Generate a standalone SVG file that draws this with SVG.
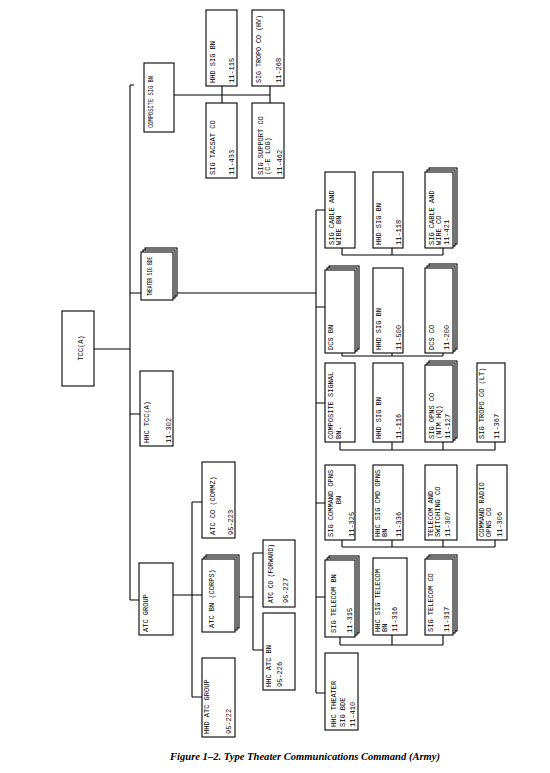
<svg xmlns="http://www.w3.org/2000/svg" width="550" height="773" viewBox="0 0 550 773">
<style>
.b{fill:#fff;stroke:#000;stroke-width:1.1}
.t{font-family:"Liberation Mono","DejaVu Sans Mono",monospace;font-size:7px;fill:#000}
.m{text-anchor:middle}
.c{fill:none;stroke:#000;stroke-width:1.1}
.cap{font-family:"Liberation Serif","Times New Roman",serif;font-size:10px;font-style:italic;font-weight:bold;fill:#000}
</style>
<rect width="550" height="773" fill="#fff"/>
<g id="connectors" class="c">
<path d="M130 85V600M130 85H134M94 349H130"/>
<path d="M174 95H270M222 86V103M270 86V103"/>
<path d="M130 293H141M175 293H316M130 414H140"/>
<path d="M130 600H139M173 595H192M192 502V697M192 502H202M192 595H202M192 697H202"/>
<path d="M237 597H253M253 553V650M253 553H263M253 650H263"/>
<path d="M316 210V693M316 210H325M316 307H325M316 403H325M316 503H325M316 597H325M316 693H325"/>
<path d="M342 255H443M342 248V255M392 248V255M443 248V255"/>
<path d="M342 356H443M342 353V356M392 353V356M443 353V356"/>
<path d="M340 450H495M340 442V450M392 442V450M443 442V450M495 442V450"/>
<path d="M342 547H495M342 540V547M392 540V547M443 540V547M495 540V547"/>
<path d="M340 645H443M340 637V645M392 635V645M443 635V645"/>
</g>
<g id="n_tcc"><rect class="b" x="62" y="311" width="32" height="75"/><text class="t m" transform="translate(83 348) rotate(-90)">TCC(A)</text></g>
<g id="n_composite"><rect class="b" x="144" y="63" width="30" height="69"/><text class="t" transform="translate(153 128) rotate(-90)" textLength="52" lengthAdjust="spacingAndGlyphs">COMPOSITE SIG BN</text></g>
<g id="n_hhd115"><rect class="b" x="206" y="10" width="31" height="76"/><text class="t" transform="translate(215 83) rotate(-90)">HHD SIG BN</text><text class="t" transform="translate(234 83) rotate(-90)">11-115</text></g>
<g id="n_tropo_hv"><rect class="b" x="252" y="10" width="32" height="76"/><text class="t" transform="translate(261 83) rotate(-90)" textLength="68" lengthAdjust="spacingAndGlyphs">SIG TROPO CO (HV)</text><text class="t" transform="translate(281 83) rotate(-90)">11-268</text></g>
<g id="n_tacsat"><rect class="b" x="206" y="103" width="31" height="75"/><text class="t" transform="translate(215 175) rotate(-90)">SIG TACSAT CO</text><text class="t" transform="translate(234 175) rotate(-90)">11-433</text></g>
<g id="n_support"><rect class="b" x="252" y="103" width="32" height="75"/><text class="t" transform="translate(263 175) rotate(-90)">SIG SUPPORT CO</text><text class="t" transform="translate(270 175) rotate(-90)">(C-E LOG)</text><text class="t" transform="translate(282 175) rotate(-90)">11-462</text></g>
<g id="n_theater"><rect class="b" x="145" y="248" width="32" height="48"/><rect class="b" x="143" y="250" width="32" height="48"/><rect class="b" x="141" y="252" width="32" height="48"/><text class="t" transform="translate(152 296) rotate(-90)" textLength="39" lengthAdjust="spacingAndGlyphs">THEATER SIG BDE</text></g>
<g id="n_hhc_tcc"><rect class="b" x="140" y="371" width="33" height="75"/><text class="t" transform="translate(149 443) rotate(-90)">HHC TCC(A)</text><text class="t" transform="translate(171 443) rotate(-90)">11-302</text></g>
<g id="n_atc_group"><rect class="b" x="139" y="563" width="34" height="72"/><text class="t" transform="translate(148 632) rotate(-90)">ATC GROUP</text></g>
<g id="n_atc_co_commz"><rect class="b" x="202" y="462" width="33" height="76"/><text class="t" transform="translate(215 535) rotate(-90)">ATC CO (COMMZ)</text><text class="t" transform="translate(233 535) rotate(-90)">95-223</text></g>
<g id="n_atc_bn"><rect class="b" x="206" y="555" width="33" height="73"/><rect class="b" x="204" y="557" width="33" height="73"/><rect class="b" x="202" y="559" width="33" height="73"/><text class="t" transform="translate(214 628) rotate(-90)">ATC BN (CORPS)</text></g>
<g id="n_hhd_atc_group"><rect class="b" x="202" y="658" width="33" height="79"/><text class="t" transform="translate(209 734) rotate(-90)">HHD ATC GROUP</text><text class="t" transform="translate(231 734) rotate(-90)">95-222</text></g>
<g id="n_atc_co_fwd"><rect class="b" x="263" y="540" width="32" height="67"/><text class="t" transform="translate(273 603) rotate(-90)" textLength="59" lengthAdjust="spacingAndGlyphs">ATC CO (FORWARD)</text><text class="t" transform="translate(288 603) rotate(-90)">95-227</text></g>
<g id="n_hhc_atc_bn"><rect class="b" x="263" y="613" width="32" height="77"/><text class="t" transform="translate(271 687) rotate(-90)">HHC ATC BN</text><text class="t" transform="translate(282 687) rotate(-90)">95-226</text></g>
<g id="n_cw_bn"><rect class="b" x="325" y="172" width="30" height="76"/><text class="t" transform="translate(334 245) rotate(-90)">SIG CABLE AND</text><text class="t" transform="translate(341 245) rotate(-90)">WIRE BN</text></g>
<g id="n_cw_hhd"><rect class="b" x="373" y="172" width="30" height="76"/><text class="t" transform="translate(381 245) rotate(-90)">HHD SIG BN</text><text class="t" transform="translate(401 245) rotate(-90)">11-118</text></g>
<g id="n_cw_co"><rect class="b" x="429" y="168" width="28" height="76"/><rect class="b" x="427" y="170" width="28" height="76"/><rect class="b" x="425" y="172" width="28" height="76"/><text class="t" transform="translate(434 245) rotate(-90)">SIG CABLE AND</text><text class="t" transform="translate(441 245) rotate(-90)">WIRE CO</text><text class="t" transform="translate(449 245) rotate(-90)">11-421</text></g>
<g id="n_dcs_bn"><rect class="b" x="329" y="266" width="30" height="83"/><rect class="b" x="327" y="268" width="30" height="83"/><rect class="b" x="325" y="270" width="30" height="83"/><text class="t" transform="translate(333 350) rotate(-90)">DCS BN</text></g>
<g id="n_dcs_hhd"><rect class="b" x="373" y="268" width="30" height="85"/><text class="t" transform="translate(381 350) rotate(-90)">HHD SIG BN</text><text class="t" transform="translate(401 350) rotate(-90)">11-500</text></g>
<g id="n_dcs_co"><rect class="b" x="429" y="264" width="28" height="85"/><rect class="b" x="427" y="266" width="28" height="85"/><rect class="b" x="425" y="268" width="28" height="85"/><text class="t" transform="translate(434 350) rotate(-90)">DCS CO</text><text class="t" transform="translate(449 350) rotate(-90)">11-200</text></g>
<g id="n_comp_bn"><rect class="b" x="325" y="363" width="30" height="79"/><text class="t" transform="translate(333 439) rotate(-90)">COMPOSITE SIGNAL</text><text class="t" transform="translate(341 439) rotate(-90)">BN.</text></g>
<g id="n_comp_hhd"><rect class="b" x="373" y="363" width="30" height="79"/><text class="t" transform="translate(381 439) rotate(-90)">HHD SIG BN</text><text class="t" transform="translate(401 439) rotate(-90)">11-116</text></g>
<g id="n_opns_co"><rect class="b" x="429" y="361" width="28" height="77"/><rect class="b" x="427" y="363" width="28" height="77"/><rect class="b" x="425" y="365" width="28" height="77"/><text class="t" transform="translate(434 439) rotate(-90)">SIG OPNS CO</text><text class="t" transform="translate(441 439) rotate(-90)">(NTM HQ)</text><text class="t" transform="translate(450 439) rotate(-90)">11-127</text></g>
<g id="n_tropo_lt"><rect class="b" x="477" y="363" width="28" height="79"/><text class="t" transform="translate(484 439) rotate(-90)">SIG TROPO CO (LT)</text><text class="t" transform="translate(499 439) rotate(-90)">11-367</text></g>
<g id="n_cmd_bn"><rect class="b" x="325" y="465" width="30" height="75"/><text class="t" transform="translate(333 537) rotate(-90)">SIG COMMAND OPNS</text><text class="t m" transform="translate(341 500) rotate(-90)">BN</text><text class="t" transform="translate(354 537) rotate(-90)">11-325</text></g>
<g id="n_cmd_hhc"><rect class="b" x="373" y="465" width="30" height="75"/><text class="t" transform="translate(380 537) rotate(-90)">HHC SIG CMD OPNS</text><text class="t" transform="translate(387 537) rotate(-90)">BN</text><text class="t" transform="translate(401 537) rotate(-90)">11-336</text></g>
<g id="n_switch_co"><rect class="b" x="425" y="465" width="32" height="75"/><text class="t" transform="translate(433 537) rotate(-90)">TELECOM AND</text><text class="t" transform="translate(440 537) rotate(-90)">SWITCHING CO</text><text class="t" transform="translate(450 537) rotate(-90)">11-307</text></g>
<g id="n_radio_co"><rect class="b" x="477" y="465" width="30" height="75"/><text class="t" transform="translate(484 537) rotate(-90)">COMMAND RADIO</text><text class="t" transform="translate(491 537) rotate(-90)">OPNS CO</text><text class="t" transform="translate(502 537) rotate(-90)">11-306</text></g>
<g id="n_tel_bn"><rect class="b" x="329" y="556" width="30" height="77"/><rect class="b" x="327" y="558" width="30" height="77"/><rect class="b" x="325" y="560" width="30" height="77"/><text class="t" transform="translate(336 633) rotate(-90)">SIG TELECOM BN</text><text class="t" transform="translate(352 633) rotate(-90)">11-315</text></g>
<g id="n_tel_hhc"><rect class="b" x="373" y="558" width="34" height="77"/><text class="t" transform="translate(380 632) rotate(-90)">HHC SIG TELECOM</text><text class="t" transform="translate(387 632) rotate(-90)">BN</text><text class="t" transform="translate(397 632) rotate(-90)">11-316</text></g>
<g id="n_tel_co"><rect class="b" x="429" y="555" width="28" height="76"/><rect class="b" x="427" y="557" width="28" height="76"/><rect class="b" x="425" y="559" width="28" height="76"/><text class="t" transform="translate(433 632) rotate(-90)">SIG TELECOM CO</text><text class="t" transform="translate(449 632) rotate(-90)">11-317</text></g>
<g id="n_hhc_bde"><rect class="b" x="325" y="653" width="33" height="77"/><text class="t" transform="translate(336 727) rotate(-90)">HHC THEATER</text><text class="t" transform="translate(345 727) rotate(-90)">SIG BDE</text><text class="t" transform="translate(355 727) rotate(-90)">11-410</text></g>
<text class="cap" x="170" y="760" textLength="270" lengthAdjust="spacingAndGlyphs">Figure 1–2. Type Theater Communications Command (Army)</text>
</svg>
